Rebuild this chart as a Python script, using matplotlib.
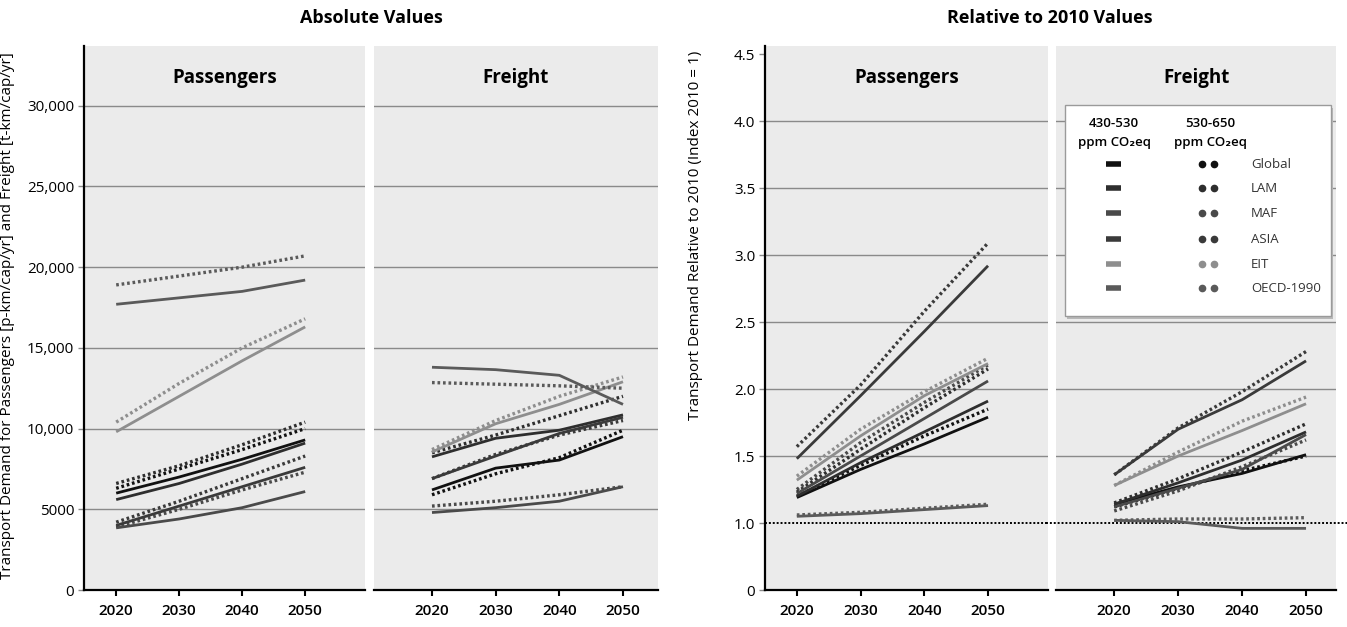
import numpy as np
import matplotlib
matplotlib.use('Agg')
import matplotlib.pyplot as plt
from matplotlib.patches import Rectangle
from matplotlib.lines import Line2D

plt.rcParams['font.family'] = ['Open Sans', 'DejaVu Sans']

years = [2020, 2030, 2040, 2050]
regions = ['Global', 'LAM', 'MAF', 'ASIA', 'EIT', 'OECD-1990']
colors = {'Global': '#111111', 'LAM': '#2e2e2e', 'MAF': '#4a4a4a',
          'ASIA': '#3a3a3a', 'EIT': '#8e8e8e', 'OECD-1990': '#5a5a5a'}

# absolute demand, passengers [p-km/cap/yr]  (430-530 / 530-650 ppm)
abs_pass_low = {
    'Global': [6000, 7000, 8100, 9300],
    'LAM': [5600, 6600, 7800, 9100],
    'MAF': [3850, 4400, 5100, 6100],
    'ASIA': [4000, 5200, 6400, 7600],
    'EIT': [9800, 12000, 14200, 16300],
    'OECD-1990': [17700, 18100, 18500, 19200],
}
abs_pass_high = {
    'Global': [6300, 7500, 8700, 10000],
    'LAM': [6600, 7700, 9000, 10400],
    'MAF': [3900, 5000, 6200, 7300],
    'ASIA': [4200, 5500, 6900, 8300],
    'EIT': [10400, 12800, 15000, 16800],
    'OECD-1990': [18900, 19450, 20000, 20700],
}
# absolute demand, freight [t-km/cap/yr]
abs_frt_low = {
    'Global': [6200, 7550, 8050, 9500],
    'LAM': [8250, 9400, 9900, 10850],
    'MAF': [4800, 5100, 5500, 6400],
    'ASIA': [6900, 8300, 9700, 10700],
    'EIT': [8550, 10300, 11500, 12900],
    'OECD-1990': [13800, 13650, 13300, 11500],
}
abs_frt_high = {
    'Global': [5900, 7200, 8200, 9900],
    'LAM': [8500, 9600, 10800, 12000],
    'MAF': [5200, 5500, 5900, 6400],
    'ASIA': [6900, 8400, 9600, 10500],
    'EIT': [8700, 10500, 12000, 13200],
    'OECD-1990': [12850, 12750, 12650, 12500],
}
# demand relative to 2010, passengers
rel_pass_low = {
    'Global': [1.19, 1.40, 1.59, 1.79],
    'LAM': [1.20, 1.45, 1.68, 1.91],
    'MAF': [1.22, 1.50, 1.78, 2.06],
    'ASIA': [1.48, 1.95, 2.43, 2.92],
    'EIT': [1.32, 1.65, 1.95, 2.19],
    'OECD-1990': [1.05, 1.07, 1.10, 1.13],
}
rel_pass_high = {
    'Global': [1.20, 1.43, 1.65, 1.85],
    'LAM': [1.23, 1.55, 1.86, 2.15],
    'MAF': [1.25, 1.60, 1.90, 2.18],
    'ASIA': [1.57, 2.03, 2.58, 3.09],
    'EIT': [1.35, 1.70, 1.98, 2.23],
    'OECD-1990': [1.06, 1.08, 1.11, 1.14],
}
# demand relative to 2010, freight
rel_frt_low = {
    'Global': [1.14, 1.27, 1.37, 1.51],
    'LAM': [1.14, 1.30, 1.47, 1.68],
    'MAF': [1.12, 1.26, 1.40, 1.66],
    'ASIA': [1.36, 1.70, 1.92, 2.21],
    'EIT': [1.28, 1.50, 1.69, 1.89],
    'OECD-1990': [1.02, 1.01, 0.96, 0.96],
}
rel_frt_high = {
    'Global': [1.12, 1.26, 1.39, 1.50],
    'LAM': [1.15, 1.33, 1.53, 1.74],
    'MAF': [1.09, 1.24, 1.42, 1.62],
    'ASIA': [1.36, 1.71, 1.98, 2.28],
    'EIT': [1.28, 1.53, 1.76, 1.94],
    'OECD-1990': [1.02, 1.03, 1.03, 1.04],
}

abs_ticks = [0, 5000, 10000, 15000, 20000, 25000, 30000]
abs_ticklabels = ['0', '5000', '10,000', '15,000', '20,000', '25,000', '30,000']
abs_grid = [5000, 10000, 15000, 20000, 25000, 30000]
rel_ticks = [0, 1.0, 1.5, 2.0, 2.5, 3.0, 3.5, 4.0, 4.5]
rel_ticklabels = ['0', '1.0', '1.5', '2.0', '2.5', '3.0', '3.5', '4.0', '4.5']
rel_grid = [1.5, 2.0, 2.5, 3.0, 3.5, 4.0]

PANEL = '#ebebeb'
GRID = '#8a8a8a'
DOT = (0, (0.8, 0.85))


# broken axis below 0.9: the 0..0.9 range is squeezed into 0.5..0.9
def fwd(y):
    y = np.asarray(y, dtype=float)
    return np.where(y >= 0.9, y, 0.5 + y * (0.4 / 0.9))


def inv(v):
    v = np.asarray(v, dtype=float)
    return np.where(v >= 0.9, v, (v - 0.5) * (0.9 / 0.4))


fig = plt.figure(figsize=(13.47, 6.27), dpi=100)
bottom, height = 0.059, 0.8676
ax_ap = fig.add_axes([0.0624, bottom, 0.2086, height])
ax_af = fig.add_axes([0.2777, bottom, 0.2108, height])
ax_rp = fig.add_axes([0.5679, bottom, 0.2101, height])
ax_rf = fig.add_axes([0.7840, bottom, 0.2079, height])


def draw_lines(ax, low, high):
    for r in regions:
        ax.plot(years, high[r], color=colors[r], lw=2.4, linestyle=DOT,
                dash_capstyle='butt', zorder=3)
        ax.plot(years, low[r], color=colors[r], lw=2.0, solid_capstyle='butt',
                zorder=3)


def style_panel(ax, xlim, first):
    ax.set_facecolor(PANEL)
    ax.set_xlim(*xlim)
    ax.set_xticks(years)
    ax.tick_params(axis='x', length=4, width=1.5, color='black', pad=6,
                   labelsize=11)
    for lab in ax.get_xticklabels():
        lab.set_fontweight('semibold')
    for s in ['top', 'right']:
        ax.spines[s].set_visible(False)
    ax.spines['bottom'].set_linewidth(1.6)
    if first:
        ax.spines['left'].set_linewidth(1.6)
        ax.tick_params(axis='y', length=4, width=1, color=GRID, pad=3,
                       labelsize=11)
    else:
        ax.spines['left'].set_visible(False)
        ax.tick_params(axis='y', left=False, labelleft=False)


# absolute values
for ax, low, high, xl, first, name in [
        (ax_ap, abs_pass_low, abs_pass_high, (2014.9, 2059.5), True, 'Passengers'),
        (ax_af, abs_frt_low, abs_frt_high, (2010.9, 2055.5), False, 'Freight')]:
    ax.set_ylim(0, 33700)
    ax.set_yticks(abs_ticks)
    ax.set_yticklabels(abs_ticklabels)
    for g in abs_grid:
        ax.axhline(g, color=GRID, lw=1, zorder=1)
    draw_lines(ax, low, high)
    style_panel(ax, xl, first)
    ax.text(0.5, 0.941, name, transform=ax.transAxes, ha='center', va='center',
            fontsize=13.5, fontweight='bold')

ax_ap.set_ylabel('Transport Demand for Passengers [p-km/cap/yr] and Freight [t-km/cap/yr]',
                 fontsize=11)
ax_ap.yaxis.set_label_coords(-0.245, 0.505)

# relative to 2010
for ax, low, high, xl, first, name in [
        (ax_rp, rel_pass_low, rel_pass_high, (2015.0, 2059.4), True, 'Passengers'),
        (ax_rf, rel_frt_low, rel_frt_high, (2010.9, 2054.7), False, 'Freight')]:
    ax.set_yscale('function', functions=(fwd, inv))
    ax.set_ylim(0, 4.56)
    ax.set_yticks(rel_ticks)
    ax.set_yticklabels(rel_ticklabels)
    ax.minorticks_off()
    for g in rel_grid:
        ax.axhline(g, color=GRID, lw=1, zorder=1)
    draw_lines(ax, low, high)
    style_panel(ax, xl, first)
    ax.text(0.5, 0.941, name, transform=ax.transAxes, ha='center', va='center',
            fontsize=13.5, fontweight='bold')

ax_rp.axhline(1.0, color='black', lw=1.4, linestyle=(0, (1, 1)), zorder=2)
ax_rf.axhline(1.0, xmin=-0.035, xmax=1.04, color='black', lw=1.4,
              linestyle=(0, (1, 1)), zorder=2, clip_on=False)
ax_rp.set_ylabel('Transport Demand Relative to 2010 (Index 2010 = 1)', fontsize=11)
ax_rp.yaxis.set_label_coords(-0.219, 0.652)

# legend box
tr = ax_rf.transAxes
ax_rf.add_patch(Rectangle((0.040, 0.498), 0.950, 0.388, transform=tr,
                          facecolor='#b8b8b8', edgecolor='none', zorder=5))
ax_rf.add_patch(Rectangle((0.032, 0.504), 0.950, 0.388, transform=tr,
                          facecolor='white', edgecolor='#9a9a9a', lw=1, zorder=6))
for xc, head in [(0.207, '430-530'), (0.55, '530-650')]:
    ax_rf.text(xc, 0.858, head, transform=tr, ha='center', va='center',
               fontsize=9.5, fontweight='semibold', zorder=7)
    ax_rf.text(xc, 0.823, 'ppm CO\u2082eq', transform=tr, ha='center',
               va='center', fontsize=9.5, fontweight='semibold', zorder=7)
row_y = [0.783, 0.739, 0.693, 0.645, 0.599, 0.555]
for r, yy in zip(regions, row_y):
    ax_rf.add_line(Line2D([0.179, 0.232], [yy, yy], transform=tr,
                          color=colors[r], lw=4, solid_capstyle='butt', zorder=7))
    ax_rf.add_line(Line2D([0.520, 0.565], [yy, yy], transform=tr,
                          color=colors[r], linestyle='none', marker='o',
                          markersize=4.5, zorder=7))
    ax_rf.text(0.696, yy, r, transform=tr, ha='left', va='center',
               fontsize=9.5, color='#333333', zorder=7)

fig.text(371 / 1347, 1 - 18 / 627, 'Absolute Values', ha='center', va='center',
         fontsize=13, fontweight='bold')
fig.text(1050 / 1347, 1 - 18 / 627, 'Relative to 2010 Values', ha='center',
         va='center', fontsize=13, fontweight='bold')

fig.savefig('out.png', dpi=100)
